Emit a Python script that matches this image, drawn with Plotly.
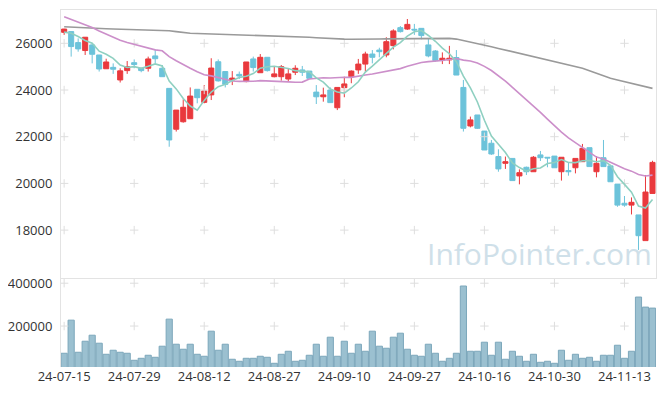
import pandas as pd
import plotly.graph_objects as go

# ---------------- data ----------------
tick_labels = ["24-07-15", "24-07-29", "24-08-12", "24-08-27", "24-09-10",
               "24-09-27", "24-10-16", "24-10-30", "24-11-13"]
tick_pos = [0, 10, 20, 30, 40, 50, 60, 70, 80]

opens = [26470, 26500, 26030, 25690, 25930, 25500, 24910, 24970, 24430, 24830,
         25170, 24940, 24930, 25460, 24930, 24070, 22320, 22640, 22770, 24030,
         23470, 23790, 25210, 24790, 24430, 24670, 24360, 25330, 24740, 25400,
         24570, 24570, 24470, 24760, 24860, 24810, 23910, 23710, 24000, 23240,
         24100, 24570, 24860, 25110, 25540, 25710, 25500, 25900, 26670, 26610,
         26600, 26640, 25930, 25670, 25290, 25290, 25390, 24110, 22460, 22930,
         22240, 21720, 21150, 20860, 21070, 20320, 20690, 20500, 21220, 21120,
         21170, 20500, 20550, 20670, 20930, 21530, 20500, 21100, 20750, 19970,
         19150, 19070, 18650, 17550, 19570]
highs = [26620, 26500, 26210, 26260, 26000, 25500, 25340, 25140, 24930, 25240,
         25310, 24940, 25430, 25740, 25070, 24070, 23140, 23600, 24110, 24030,
         24210, 25360, 25310, 24790, 24810, 24790, 25200, 25430, 25540, 25400,
         25000, 25070, 24900, 25060, 25030, 24810, 24210, 24100, 24110, 24110,
         24570, 24840, 25330, 25640, 25710, 25810, 26260, 26600, 26740, 27040,
         26830, 26640, 26210, 25710, 25610, 25890, 25710, 24430, 22860, 22930,
         22240, 21860, 21460, 21150, 21070, 20600, 20720, 21170, 21390, 21120,
         21170, 21120, 20890, 21070, 21690, 21530, 21170, 21860, 20750, 19970,
         19460, 19400, 18650, 20360, 20970]
lows = [26360, 25430, 25640, 25500, 25140, 24790, 24910, 24690, 24320, 24690,
        24930, 24760, 24790, 25140, 24570, 21570, 22220, 22600, 22770, 23430,
        23430, 23570, 24360, 24110, 24210, 24470, 24330, 24790, 24740, 24790,
        24540, 24400, 24370, 24640, 24600, 24500, 23400, 23500, 23460, 23140,
        23690, 24290, 24690, 24790, 25140, 25400, 25400, 25740, 26460, 26570,
        26360, 26170, 25400, 25210, 25110, 25110, 24640, 22220, 22400, 22330,
        21430, 21220, 20500, 20620, 20120, 19960, 20360, 20500, 20960, 20690,
        20670, 20120, 20330, 20430, 20930, 20720, 20260, 20720, 20070, 19000,
        19000, 18670, 17150, 17550, 19570]
closes = [26610, 25860, 25760, 26260, 25530, 24900, 25200, 24890, 24820, 25000,
          25090, 24830, 25330, 25340, 24570, 21860, 23140, 23260, 23740, 23670,
          23960, 24940, 24390, 24240, 24510, 24600, 25200, 24960, 25400, 24830,
          24690, 25000, 24690, 24930, 24760, 24500, 23710, 23790, 23460, 24110,
          24260, 24810, 25110, 25540, 25400, 25640, 26070, 26530, 26500, 26810,
          26570, 26330, 25460, 25260, 25360, 25360, 24640, 22360, 22720, 22360,
          21430, 21260, 20620, 20930, 20120, 20460, 20500, 21120, 21100, 21090,
          20670, 21120, 20500, 21070, 21500, 20720, 20860, 20720, 20070, 19070,
          19070, 19190, 17760, 19630, 20900]
volumes = [73000, 227600, 77700, 129200, 157300, 119900, 68300, 87100, 77700, 73000,
           40300, 49600, 63700, 54300, 105900, 232300, 115200, 91800, 115200, 68300,
           59000, 176100, 87100, 115200, 45000, 35600, 49600, 49600, 59000, 54300,
           26200, 68300, 82400, 35600, 40300, 63700, 115200, 59000, 148000, 59000,
           129200, 73000, 115200, 82400, 176100, 105900, 96500, 148000, 166700, 91800,
           63700, 59000, 115200, 73000, 35600, 49600, 73000, 386900, 82400, 82400,
           124600, 63700, 124600, 45000, 82400, 59000, 35600, 68300, 30900, 35600,
           26200, 87100, 40300, 68300, 49600, 54300, 35600, 63700, 63700, 110500,
           49600, 82400, 335400, 288500, 283900]
# moving-average values before enough visible closes exist
ma5_head = [26480, 26430, 26290, 26120]
ma20_head = [27140, 27030, 26920, 26810, 26680, 26530, 26390, 26250, 26130, 26030,
             25950, 25860, 25780, 25720, 25680, 25430, 25250, 25080, 24930]
# long moving average (gray)
ma_long = [26710, 26690, 26670, 26650, 26640, 26630, 26620, 26610, 26600, 26595,
           26590, 26585, 26580, 26575, 26570, 26540, 26500, 26460, 26430, 26420,
           26410, 26400, 26395, 26390, 26385, 26380, 26375, 26370, 26355, 26340,
           26325, 26310, 26300, 26290, 26280, 26260, 26240, 26220, 26200, 26190,
           26180, 26175, 26170, 26175, 26180, 26185, 26190, 26195, 26200, 26200,
           26205, 26210, 26210, 26215, 26215, 26210, 26180, 26120, 26040, 25990,
           25920, 25850, 25780, 25710, 25640, 25570, 25500, 25430, 25355, 25285,
           25215, 25145, 25075, 25000, 24930, 24825, 24715, 24610, 24500, 24430,
           24360, 24285, 24215, 24140, 24070]
price_ticks = [18000, 20000, 22000, 24000, 26000]
vol_ticks = [200000, 400000]

# ---------------- figure ----------------
idx = list(range(len(closes)))
cs = pd.Series(closes, dtype=float)
ma5 = ma5_head + cs.rolling(5).mean().tolist()[4:]
ma20 = ma20_head + cs.rolling(20).mean().tolist()[19:]

RED = "#e9393d"
BLUE = "#6cc3da"
GRID = "#dedede"
FONT = dict(family="Open Sans, Noto Sans, sans-serif", size=13, color="#333333")

fig = go.Figure()

# grid crosses
cx, cy = [], []
for t in tick_pos:
    for p in price_ticks:
        cx.append(t); cy.append(p)
fig.add_trace(go.Scatter(x=cx, y=cy, mode="markers", xaxis="x", yaxis="y",
                         marker=dict(symbol="cross-thin", size=6,
                                     line=dict(color=GRID, width=1)),
                         hoverinfo="skip", showlegend=False))
vx, vy = [], []
for t in tick_pos:
    for v in vol_ticks:
        vx.append(t); vy.append(v)
fig.add_trace(go.Scatter(x=vx, y=vy, mode="markers", xaxis="x2", yaxis="y2",
                         marker=dict(symbol="cross-thin", size=6,
                                     line=dict(color=GRID, width=1)),
                         hoverinfo="skip", showlegend=False))

fig.add_trace(go.Candlestick(
    x=idx, open=opens, high=highs, low=lows, close=closes,
    xaxis="x", yaxis="y",
    increasing=dict(line=dict(color=RED, width=1), fillcolor=RED),
    decreasing=dict(line=dict(color=BLUE, width=1), fillcolor=BLUE),
    whiskerwidth=0, showlegend=False))

fig.add_trace(go.Scatter(x=idx, y=ma_long, mode="lines", xaxis="x", yaxis="y",
                         line=dict(color="#9a9a9a", width=1.6), showlegend=False))
fig.add_trace(go.Scatter(x=idx, y=ma20, mode="lines", xaxis="x", yaxis="y",
                         line=dict(color="#cc8fca", width=1.6), showlegend=False))
fig.add_trace(go.Scatter(x=idx, y=ma5, mode="lines", xaxis="x", yaxis="y",
                         line=dict(color="#8fd0c1", width=1.6), showlegend=False))

fig.add_trace(go.Bar(x=idx, y=volumes, xaxis="x2", yaxis="y2", width=0.88,
                     marker=dict(color="#9bc0d0", line=dict(color="#7ca7bb", width=1)),
                     showlegend=False))

# the page body adds an 8px offset, so the figure is 16px smaller than the window
xr = [-0.45, 84.5]
fig.update_layout(
    width=649, height=380,
    margin=dict(l=53, r=1, t=2, b=21, autoexpand=False),
    paper_bgcolor="white", plot_bgcolor="white",
    font=FONT,
    showlegend=False,
    boxgap=0.15, boxgroupgap=0.15,
    xaxis=dict(domain=[0, 1], range=xr, anchor="y", showticklabels=False,
               showgrid=False, zeroline=False, showline=True, mirror=True,
               linecolor="#e3e3e3", ticks="", rangeslider=dict(visible=False),
               automargin=False, fixedrange=True),
    yaxis=dict(domain=[0.2507, 1], range=[15970, 27426], tickvals=price_ticks,
               ticktext=[str(v) for v in price_ticks], automargin=False,
               showgrid=False, zeroline=False, showline=True, mirror=True,
               linecolor="#e3e3e3", ticks="outside", ticklen=5,
               tickcolor="rgba(0,0,0,0)", tickfont=FONT),
    xaxis2=dict(domain=[0, 1], range=xr, anchor="y2", tickvals=tick_pos,
                ticktext=tick_labels, showgrid=False, zeroline=False,
                showline=False, ticks="", ticklen=0, automargin=False,
                tickfont=FONT),
    yaxis2=dict(domain=[0, 0.2485], range=[8900, 423000], tickvals=vol_ticks,
                ticktext=[str(v) for v in vol_ticks], automargin=False,
                showgrid=False, zeroline=False, showline=True,
                linecolor="#e3e3e3", ticks="outside", ticklen=5,
                tickcolor="rgba(0,0,0,0)", tickfont=FONT),
    bargap=0.1,
    annotations=[dict(text="InfoPointer.com", xref="paper", yref="paper",
                      x=0.804, y=0.319, xanchor="center", yanchor="middle",
                      showarrow=False,
                      font=dict(family="Open Sans, sans-serif", size=30,
                                color="#cfe0e9"))],
)

fig.write_html("out.html")
